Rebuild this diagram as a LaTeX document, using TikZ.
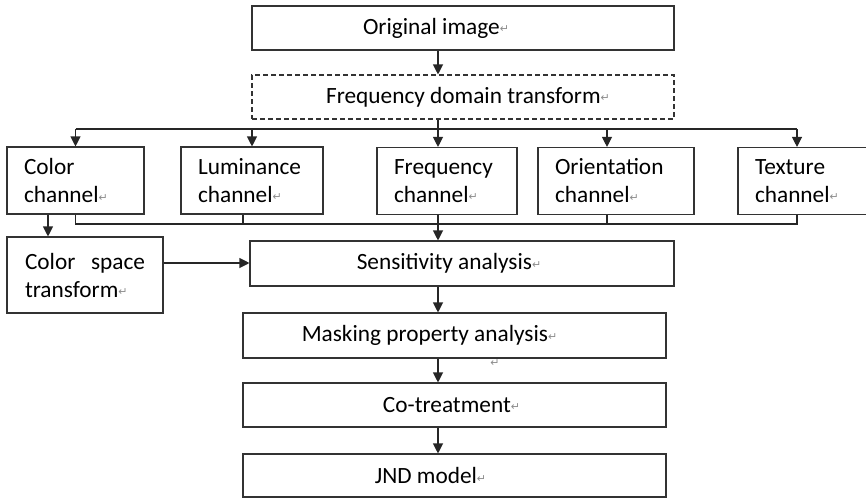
\documentclass[tikz,border=0pt]{standalone}
\usepackage{fontspec}
\setmainfont{Carlito}
\newfontfamily\markfont{DejaVu Sans}
\usetikzlibrary{arrows.meta}
\newcommand{\pmark}{\raisebox{1.5pt}{\markfont\fontsize{11}{11}\selectfont\color{black!45}↵}}

\begin{document}
\begin{tikzpicture}[
    x=1pt, y=-1pt,
    >={Triangle[width=10pt,length=10pt]},
    font=\fontsize{23.3}{28}\selectfont,
    box/.style={draw=black!80, line width=1.1pt, minimum height=44pt, inner sep=0pt},
    wide/.style={box, minimum width=#1},
    chan/.style={box, minimum height=67pt, align=left, inner xsep=17pt, text width=#1},
    lbl/.style={inner sep=0pt},
    link/.style={draw=black!85, line width=1.1pt}
]
    \useasboundingbox (0,0) rectangle (866,499);

    % main column
    \node[wide=422pt, label={[lbl, xshift=-27pt]center:Original image\pmark}] (orig) at (463,28) {};
    \node[wide=422pt, dashed, dash pattern=on 5pt off 3pt,
          label={[lbl, xshift=5pt]center:Frequency domain transform\pmark}] (fdt) at (463,97) {};

    % channels
    \node[chan=103pt] (color)  at (75.5,180.5) {Color\\channel\pmark};
    \node[chan=108pt] (lum)    at (252,180.5)  {Luminance\\channel\pmark};
    \node[chan=106pt] (freq)   at (447,181)    {Frequency\\channel\pmark};
    \node[chan=122pt] (orient) at (616,181)    {Orientation\\channel\pmark};
    \node[chan=110pt] (texture) at (810,181)   {Texture\\channel\pmark};

    \node[box, minimum width=156pt, minimum height=76pt, align=left] (cspace) at (85,275)
        {\makebox[120pt][l]{Color\hfill space}\\transform\pmark};

    % analysis steps
    \node[wide=424pt, minimum height=45pt,
          label={[lbl, xshift=-13pt]center:Sensitivity analysis\pmark}] (sens) at (462,263.5) {};
    \node[wide=423pt, minimum height=45pt,
          label={[lbl, xshift=-25pt]center:Masking property analysis\pmark}] (mask) at (454.5,335.5) {};
    \node[lbl] (stray) at (495,364) {\pmark};
    \node[wide=423pt,
          label={[lbl, xshift=-3pt]center:Co-treatment\pmark}] (cotreat) at (454.5,405) {};
    \node[wide=423pt, minimum height=43pt,
          label={[lbl, xshift=-24pt]center:JND model\pmark}] (jnd) at (454.5,475.5) {};

    \coordinate (mainx) at (438,0);
    \coordinate (topbus) at (0,129);
    \coordinate (lowbus) at (0,224);

    % top: split into channels
    \draw[link,->] (orig.south -| mainx) -- (fdt.north -| mainx);
    \draw[link] (fdt.south -| mainx) -- (topbus -| mainx);
    \draw[link] (color.north |- topbus) -- ([xshift=-13pt]texture.north |- topbus);
    \foreach \n/\dx in {color/0, lum/0, freq/-9, orient/-9, texture/-13}
        \draw[link,->] ([xshift=\dx pt]\n.north |- topbus) -- ([xshift=\dx pt]\n.north);

    % bottom: merge channels
    \draw[link] (color.south) |- ([xshift=-13pt]texture.south |- lowbus) -- ([xshift=-13pt]texture.south);
    \draw[link] ([xshift=-9pt]lum.south) -- ([xshift=-9pt]lum.south |- lowbus);
    \draw[link] ([xshift=-9pt]orient.south) -- ([xshift=-9pt]orient.south |- lowbus);
    \draw[link,->] ([xshift=-9pt]freq.south) -- ([xshift=-9pt]freq.south |- sens.north);

    % colour path
    \draw[link,->] ([xshift=-27.5pt]color.south) -- ([xshift=-27.5pt]color.south |- cspace.north);
    \draw[link,->] ([yshift=12pt]cspace.east) -- ([yshift=12pt]cspace.east -| sens.west);

    % down the column
    \draw[link,->] (sens.south -| mainx) -- (mask.north -| mainx);
    \draw[link,->] (mask.south -| mainx) -- (cotreat.north -| mainx);
    \draw[link,->] (cotreat.south -| mainx) -- (jnd.north -| mainx);
\end{tikzpicture}
\end{document}
